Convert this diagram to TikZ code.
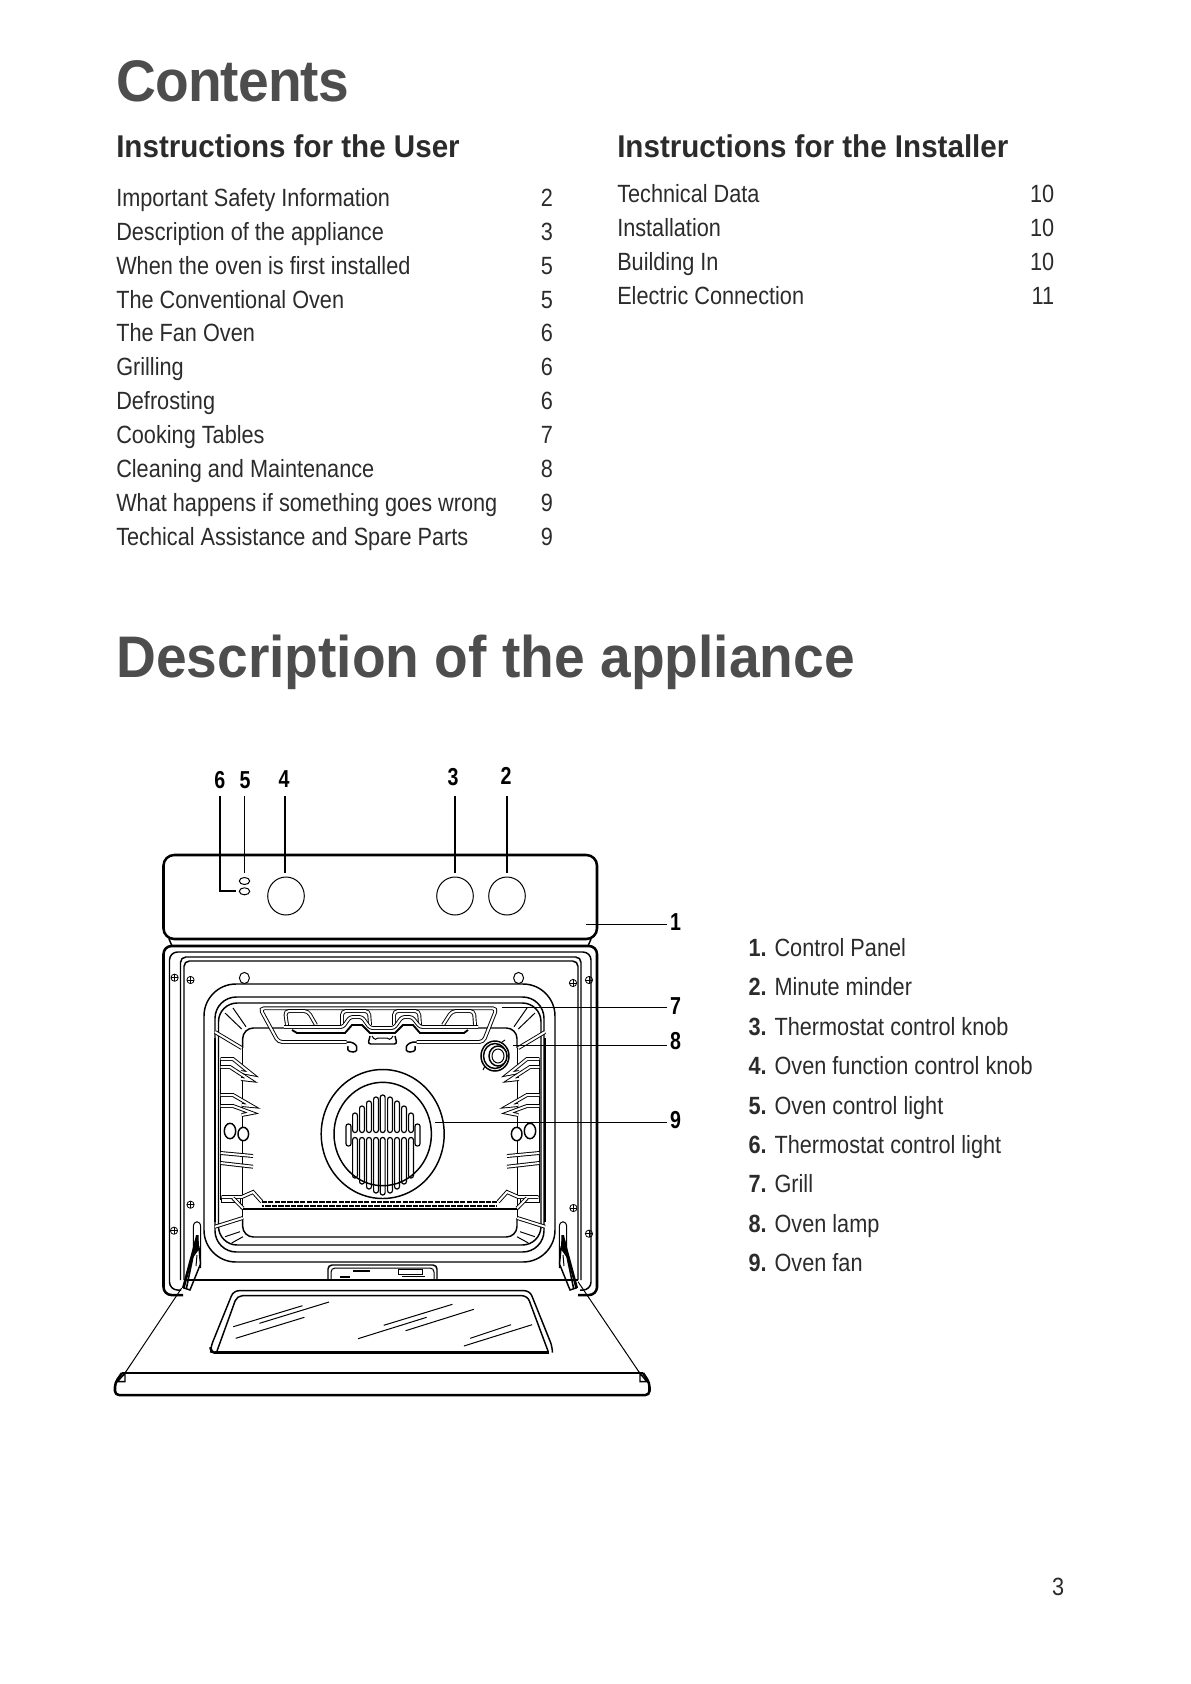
\documentclass[tikz,border=0pt]{standalone}
\usepackage{xcolor}
\usepackage{fontspec}
\setmainfont{Liberation Sans}
\newfontfamily\narrowfont[FakeStretch=0.87]{Liberation Sans}
\newfontfamily\headfont[FakeStretch=0.94]{Liberation Sans}
\newfontfamily\calloutfont[FakeStretch=0.8]{Liberation Sans}
\definecolor{headgray}{HTML}{4D4D4D}
\definecolor{bodygray}{HTML}{2B2B2B}
\tikzset{
    bigtitle/.style={anchor=base west,inner sep=0pt,text=headgray,font=\headfont\bfseries\fontsize{44}{48}\selectfont},
    subtitle/.style={anchor=base west,inner sep=0pt,text=bodygray,font=\headfont\bfseries\fontsize{23.6}{28}\selectfont},
    tocrow/.style={anchor=base west,inner sep=0pt,text=bodygray,font=\narrowfont\fontsize{18.7}{22}\selectfont},
    tocnum/.style={anchor=base east,inner sep=0pt,text=bodygray,font=\narrowfont\fontsize{18.7}{22}\selectfont},
    legendnum/.style={anchor=base west,inner sep=0pt,text=bodygray,font=\narrowfont\bfseries\fontsize{18.7}{22}\selectfont},
    callout/.style={inner xsep=2pt,inner ysep=6pt,font=\calloutfont\bfseries\fontsize{18.4}{20}\selectfont},
    heavyline/.style={line width=1.9pt},
    midline/.style={line width=1.1pt},
    thinline/.style={line width=0.75pt},
    slotline/.style={line width=0.9pt,rounded corners=1.7pt},
    twinline/.style={line width=0.7pt,double,double distance=1.5pt},
    screwhead/.style={line width=0.6pt},
}
% one side of the cavity: rack, corners, hinge
\newcommand{\ovenside}{
    \draw [line width=2.2pt] (215,1038) -- (215,1222) ;
    \draw [thinline] (220.7,1058) -- (220.7,1200) ;
    \draw [thinline] (242.7,1048) -- (242.7,1218) ;
    \draw [twinline] (215,1032) -- (241.7,1048) ;
    \draw [twinline] (215,1226.7) -- (242.7,1218) ;
    % corner rays
    \draw [thinline] (225,1013) -- (241.7,1029) ;
    \draw [thinline] (233,1008) -- (246,1026.7) ;
    \draw [thinline] (225,1236.7) -- (240,1231.7) ;
    \draw [thinline] (231.7,1243) -- (243,1236.7) ;
    % rungs
    \draw [twinline,fill=white] (220.7,1059) -- (233,1059) -- (251.7,1074) -- (241,1072) ;
    \draw [twinline,fill=white] (220.7,1067) -- (230,1067) -- (250,1080) -- (241,1079) ;
    \draw [twinline,fill=white] (220.7,1095) -- (233,1095) -- (252,1106) -- (241.7,1105) ;
    \draw [twinline,fill=white] (220.7,1106) -- (233,1106) -- (252,1113) -- (241.7,1115) ;
    \draw [twinline] (220.7,1153) -- (253,1156) ;
    \draw [twinline] (220.7,1163) -- (253,1166.7) ;
    \draw [midline,fill=white] (230,1131) ellipse (5.7 and 7.7) ;
    \draw [midline,fill=white] (243.3,1134) ellipse (5.3 and 6.7) ;
    % shelf runner
    \draw [thinline] (221,1196) rectangle (240,1202) ;
    \draw [twinline] (221.7,1197) -- (241.7,1197) -- (253,1192) -- (261.7,1201.7) ;
    \draw [twinline] (233,1198) -- (243,1208.3) ;
    % hinge
    \draw [thinline] (193.3,1270) -- (193.3,1227) .. controls (193.3,1220) and (200.7,1220) .. (200.7,1227) -- (200.7,1268) ;
    \fill (196,1235) -- (198.5,1235) -- (199,1248) -- (191,1258) -- cycle ;
    \draw [midline,fill=white] (199,1248) -- (200.5,1264) -- (190,1290) -- (184,1288) -- (192,1258) -- cycle ;
    \draw [line width=1.6pt] (196,1240) -- (183,1288) ;
    \draw [line width=1.2pt] (193.5,1254) -- (186.5,1288) ;
    \draw [thinline] (197,1255) -- (196,1266) ;
}
\begin{document}
\begin{tikzpicture}[x=0.75pt,y=0.75pt,yscale=-1,xscale=1]
    \useasboundingbox (0,0) rectangle (1191,1684);

    % headings
    \node [bigtitle] (contents) at (116,101) {\addfontfeature{LetterSpace=-1.5}Contents};
    \node [bigtitle] (descr) at (116,677) {Description of the appliance};
    \node [subtitle] (userhead) at (116,157) {Instructions for the User};
    \node [subtitle] (insthead) at (617,157) {Instructions for the Installer};

    % table of contents
    \foreach \ttext/\tpage [count=\ti from 0] in {Important Safety Information/2,Description of the appliance/3,When the oven is first installed/5,The Conventional Oven/5,The Fan Oven/6,Grilling/6,Defrosting/6,Cooking Tables/7,Cleaning and Maintenance/8,What happens if something goes wrong/9,Techical Assistance and Spare Parts/9}
    {
        \node [tocrow] (user\ti) at (116,206.5+33.85*\ti) {\ttext};
        \node [tocnum] (userpage\ti) at (553.3,206.5+33.85*\ti) {\tpage};
    }
    \foreach \ttext/\tpage [count=\ti from 0] in {Technical Data/10,Installation/10,Building In/10,Electric Connection/11}
    {
        \node [tocrow] (inst\ti) at (617,202.5+33.85*\ti) {\ttext};
        \node [tocnum] (instpage\ti) at (1054.5,202.5+33.85*\ti) {\tpage};
    }

    % legend
    \foreach \ttext [count=\ti from 1] in {Control Panel,Minute minder,Thermostat control knob,Oven function control knob,Oven control light,Thermostat control light,Grill,Oven lamp,Oven fan}
    {
        \node [legendnum] (legnum\ti) at (748.3,917.1+39.4*\ti) {\ti.};
        \node [tocrow] (leg\ti) at (774.3,917.1+39.4*\ti) {\ttext};
    }
    \node [tocnum] (pagenum) at (1064.5,1595) {3};

    % control panel
    \draw [heavyline,rounded corners=8pt] (163.5,855) rectangle (597,939);
    \draw [midline] (169,939) -- (172,946) ;
    \draw [midline] (591,939) -- (588,946) ;
    \draw [thinline] (286,896) ellipse (18.3 and 19) ;
    \draw [thinline] (455,896) ellipse (18.3 and 19) ;
    \draw [thinline] (507,896) ellipse (18.3 and 19) ;
    \draw [thinline] (244.5,881) ellipse (5.2 and 3.5) ;
    \draw [thinline] (244.5,891.3) ellipse (5.2 and 3.5) ;

    % oven frame
    \draw [heavyline,rounded corners=6pt] (183,1295) -- (163.5,1295) -- (163.5,946) -- (597,946) -- (597,1295) -- (578,1295) ;
    \draw [midline,rounded corners=6pt] (181,1290) -- (169.5,1290) -- (169.5,952) -- (591,952) -- (591,1290) -- (580,1290) ;
    \draw [midline,rounded corners=4pt] (180.5,1280) -- (180.5,957) -- (581,957) -- (581,1280) ;
    \draw [midline,rounded corners=4pt] (184,1280) -- (184,961) -- (578,961) -- (578,1280) ;
    \foreach \sx/\sy in {174.6/977.7,190.5/980,573/983,589/980,174/1230.7,190.5/1204.7,573.4/1208,589/1233.7}
    {
        \draw [screwhead] (\sx,\sy) circle (3.6) ;
        \draw [screwhead] (\sx-3.6,\sy) -- (\sx+3.6,\sy) (\sx,\sy-3.6) -- (\sx,\sy+3.6) ;
    }
    \draw [thinline] (244.4,978) ellipse (5 and 5.6) ;
    \draw [thinline] (518.6,978) ellipse (5 and 5.6) ;

    % cavity
    \draw [midline,rounded corners=24pt] (204,984) rectangle (555,1262);
    \draw [midline,rounded corners=16pt] (215,997) rectangle (544,1252);
    \draw [midline,rounded corners=14pt] (218.5,1003) rectangle (541,1245);
    \draw [midline,rounded corners=8pt] (242.7,1218) -- (242.7,1237) -- (517,1237) -- (517,1218) ;
    \draw [midline,rounded corners=8pt] (242.7,1048) -- (242.7,1028) -- (284,1028) ;
    \draw [midline,rounded corners=8pt] (478,1028) -- (517,1028) -- (517,1048) ;
    \ovenside
    \begin{scope}[xscale=-1,xshift=-570pt]
        \ovenside
    \end{scope}

    % shelf
    \draw [line width=1.5pt] (243,1208.8) -- (517,1208.8) ;
    \draw [line width=1.8pt,dash pattern=on 4pt off 0.8pt] (261.7,1202) -- (497,1202) ;
    \draw [line width=1.8pt,dash pattern=on 4pt off 0.8pt,dash phase=2pt] (261.7,1206) -- (497,1206) ;

    % grill
    \draw [twinline,rounded corners=3pt] (346.7,1042) -- (278.3,1042) -- (260,1008.3) -- (496.7,1008.3) -- (483.3,1042) -- (416.7,1042) ;
    \draw [midline] (346.7,1042) .. controls (358,1041) and (360,1052) .. (353,1052) .. controls (347,1052) and (347,1048) .. (348,1046) ;
    \draw [midline] (416.7,1042) .. controls (405,1041) and (403,1052) .. (410,1052) .. controls (416,1052) and (416,1048) .. (415,1046) ;
    \draw [twinline,rounded corners=3pt] (287,1025) -- (285,1011) -- (308,1011) -- (316,1025) ;
    \draw [twinline,rounded corners=3pt] (342,1025) -- (342,1011) -- (369,1011) -- (370,1025) ;
    \draw [twinline,rounded corners=3pt] (394,1025) -- (394,1011) -- (419,1011) -- (420,1025) ;
    \draw [twinline,rounded corners=3pt] (443,1025) -- (452,1011) -- (474,1011) -- (475,1025) ;
    \draw [line width=1.4pt] (292,1030) -- (297,1033) -- (345,1033) -- (352,1025) -- (362,1025) -- (370,1033) -- (395,1033) -- (403,1025) -- (413,1025) -- (420,1033) -- (464,1033) -- (468,1030) ;
    \draw [twinline,rounded corners=2pt] (284,1027) -- (343,1027) -- (350,1017) -- (362,1017) -- (370,1028) -- (394,1028) -- (402,1017) -- (412,1017) -- (420,1027) -- (478,1027) ;
    \draw [midline,rounded corners=2pt] (370,1036) -- (368,1044) -- (397,1044) -- (395,1036) ;
    \draw [thinline] (372,1036) .. controls (374,1040) and (377,1040) .. (378,1038) -- (387,1038) .. controls (388,1040) and (391,1040) .. (393,1036) ;

    % lamp
    \draw [midline,fill=white] (495,1056) ellipse (14 and 15) ;
    \draw [midline] (495,1056) ellipse (11.5 and 12.5) ;
    \draw [midline,fill=white] (498,1056) ellipse (9 and 10) ;
    \draw [thinline] (498,1056) ellipse (6 and 7) ;
    \draw [thinline] (485,1066) -- (483,1070) (502,1042) -- (505,1040) ;

    % fan
    \draw [midline] (382.7,1134) ellipse (61.5 and 64.5) ;
    \draw [midline] (382.7,1134) ellipse (48.7 and 51.7) ;
    \foreach \fx/\ftop/\fbot in {355/1113/1178,362/1106/1184,369/1101/1189,376/1097/1193,382.7/1095/1195,390/1097/1193,397/1101/1189,404/1106/1184,411/1113/1178}
    {
        \draw [slotline] (\fx-2.4,\ftop) rectangle (\fx+2.4,1132.5);
        \draw [slotline] (\fx-2.4,1137.5) rectangle (\fx+2.4,\fbot);
    }
    \draw [slotline] (346,1124) rectangle (351,1146);
    \draw [slotline] (415,1124) rectangle (420,1146);

    % door
    \draw [line width=1.5pt] (184,1280) -- (578,1280) ;
    \draw [midline,rounded corners=3pt] (328,1279) -- (328,1265) -- (437,1265) -- (437,1279) ;
    \draw [thinline,rounded corners=3pt] (331,1279) -- (331,1268) -- (434,1268) -- (434,1279) ;
    \draw [line width=1.3pt] (353,1270.7) -- (370,1270.7) ;
    \draw [line width=1.3pt] (339.7,1277) -- (350,1277) ;
    \draw [thinline] (398.4,1269.3) rectangle (422,1274);
    \draw [line width=1.3pt] (401.6,1276.5) -- (425.4,1276.5) ;
    \draw [thinline] (181.7,1288) -- (125,1373) ;
    \draw [thinline] (578,1281.7) -- (639.7,1373) ;
    \draw [heavyline,rounded corners=3pt,line join=round] (122,1373) -- (115,1383) -- (115,1395) -- (649.5,1395) -- (649.5,1383) -- (643,1373) ;
    \draw [midline] (122,1373) -- (643,1373) ;
    \draw [midline] (117.3,1381.7) -- (125,1373.3) -- (125,1381.7) -- cycle ;
    \draw [midline] (647,1381.7) -- (640,1373.3) -- (640,1381.7) -- cycle ;
    \draw [midline,rounded corners=4pt] (210.7,1352.7) -- (210.7,1347) -- (233.5,1290.7) -- (529.8,1290.7) -- (552.4,1347) -- (552.4,1352.7) ;
    \draw [heavyline,rounded corners=3pt] (222,1352.7) -- (210.7,1352.7) -- (210.7,1347) ;
    \draw [heavyline] (215,1352.7) -- (549,1352.7) ;
    \draw [midline,rounded corners=4pt] (217,1351) -- (237,1295.7) -- (527.4,1295.7) -- (548,1351) ;
    % glass streaks
    \foreach \ax/\ay/\bx/\by in {233.3/1326.7/302.4/1305.7,259.5/1323.3/329/1302,235.7/1338.3/304.4/1317.3,383.7/1325.3/452.4/1304.3,358/1338.7/426.6/1317.3,405.6/1330.7/473.8/1309.3,470.2/1338.3/511/1324.7,463.9/1346/532.1/1324.7}
        \draw [thinline] (\ax,\ay) -- (\bx,\by) ;

    % numbered callouts
    \node [callout] (num6) at (219.8,780) {6};
    \node [callout] (num5) at (245.2,780) {5};
    \node [callout] (num4) at (284,779) {4};
    \node [callout] (num3) at (453,776.7) {3};
    \node [callout] (num2) at (506,776) {2};
    \node [callout] (num1) at (675.6,921.7) {1};
    \node [callout] (num7) at (675.6,1005.7) {7};
    \node [callout] (num8) at (675.6,1041) {8};
    \node [callout] (num9) at (675.6,1120) {9};
    \coordinate (led6) at (235.7,891);
    \coordinate (led5) at (244.4,873.3);
    \coordinate (knob4) at (285,873.3);
    \coordinate (knob3) at (455,873.3);
    \coordinate (knob2) at (507,873.3);
    \coordinate (panel1) at (586,924.3);
    \coordinate (grill7) at (501.6,1007.7);
    \coordinate (lamp8) at (512.7,1045.7);
    \coordinate (fan9) at (435.3,1122.7);
    \draw [midline] (220.2,796) -- (220.2,891) -- (led6) ;
    \draw [midline] (led5 |- 0,796) -- (led5) ;
    \draw [midline] (knob4 |- 0,796) -- (knob4) ;
    \draw [midline] (knob3 |- 0,796) -- (knob3) ;
    \draw [midline] (knob2 |- 0,796) -- (knob2) ;
    \draw [midline] (num1.west |- panel1) -- (panel1) ;
    \draw [midline] (num7.west |- grill7) -- (grill7) ;
    \draw [midline] (num8.west |- lamp8) -- (lamp8) ;
    \draw [midline] (num9.west |- fan9) -- (fan9) ;
\end{tikzpicture}
\end{document}
